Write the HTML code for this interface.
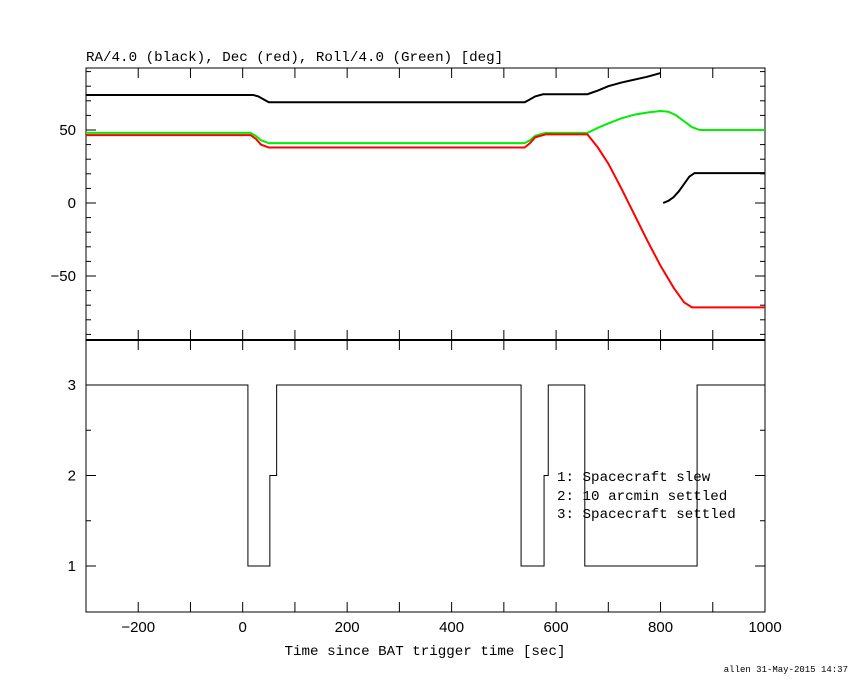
<!DOCTYPE html>
<html><head><meta charset="utf-8"><style>
body{margin:0;background:#fff;}
svg text{font-family:"Liberation Sans",sans-serif;}
svg text.m{font-family:"Liberation Mono",monospace;}
</style></head><body>
<svg id="c" width="850" height="680" xmlns="http://www.w3.org/2000/svg">
<rect width="850" height="680" fill="#fff"/>
</svg>
<script>
const raTimes=[-300,20,30,40,50,540,550,560,575,660,680,700,725,750,775,800];
const raVals=[74,74,73,71,69,69,71,73,74.5,74.5,77,80,82.5,84.5,86.5,89];
const ra2Times=[805,815,825,835,845,855,865,1000];
const ra2Vals=[0,1.5,4,8,13,18,20.5,20.5];
const decTimes=[-300,15,25,35,50,540,550,560,580,660,680,700,725,750,775,800,825,845,860,1000];
const decVals=[46.5,46.5,44,40,38,38,41,45,47,47,38,27,10,-8,-26,-43,-58,-68,-71.5,-71.5];
const rollTimes=[-300,15,25,35,50,540,550,560,580,660,680,700,725,750,775,800,815,830,845,860,875,1000];
const rollVals=[48,48,46,43,41,41,43,46,48,48,51.5,54.5,58,60.5,62,63,62.5,60,56,52,50,50];
const stateTimes=[-300,10,52,65,533,577,585,655,870,1000];
const stateVals=[3,1,2,3,1,2,3,1,3,3];
const xTicks=[-200,0,200,400,600,800,1000];
const yTopTicks=[-50,0,50];
const yBotTicks=[1,2,3];

const L=86,R=765,T1=68,B1=340,T2=340,B2=612;
const sx=t=>L+(t+300)*(R-L)/1300;
const sy1=v=>203-v*1.46;
const sy2=v=>385-(v-3)*90.5;
const svg=document.getElementById('c');
const NS='http://www.w3.org/2000/svg';
function mk(tag,attrs,name){const e=document.createElementNS(NS,tag);for(const k in attrs)e.setAttribute(k,attrs[k]);


svg.appendChild(e);return e;}
function line(x1,y1,x2,y2,name,w){return mk('line',{x1,y1,x2,y2,stroke:'#000','stroke-width':w||1},name);}
mk('rect',{x:L,y:T1,width:R-L,height:B1-T1,fill:'none',stroke:'#000','stroke-width':1},'top-panel-frame');
mk('rect',{x:L,y:T2,width:R-L,height:B2-T2,fill:'none',stroke:'#000','stroke-width':1},'bottom-panel-frame');
line(L,340,R,340,'panel-divider',2);
for(let t=-300;t<=1000;t+=100){const x=sx(t);const len=10;
line(x,T1,x,T1+len,'x-tick-top');line(x,B1,x,B1-len,'x-tick-mid');line(x,T2,x,T2+len,'x-tick-mid2');line(x,B2,x,B2-len,'x-tick-bottom');}
xTicks.forEach(t=>{const e=mk('text',{x:sx(t),y:632,'font-size':15,'text-anchor':'middle'},'x-tick-label');e.textContent=(t<0?'\u2212'+(-t):t);});
for(let v=-90;v<=90;v+=10){const y=sy1(v);const len=v%50===0?10:5;line(L,y,L+len,y,'y-tick-left');line(R,y,R-len,y,'y-tick-right');}
yTopTicks.forEach(v=>{const e=mk('text',{x:76,y:sy1(v)+5,'font-size':15,'text-anchor':'end'},'y-tick-label');e.textContent=(v<0?'\u2212'+(-v):v);});
for(let v=1;v<=3;v+=0.5){const y=sy2(v);const len=v%1===0?10:5;line(L,y,L+len,y,'y2-tick-left');line(R,y,R-len,y,'y2-tick-right');}
yBotTicks.forEach(v=>{const e=mk('text',{x:76,y:sy2(v)+5,'font-size':15,'text-anchor':'end'},'y2-tick-label');e.textContent=v;});
function poly(ts,vs,sy,color,name){mk('polyline',{points:ts.map((t,i)=>sx(t)+','+sy(vs[i])).join(' '),fill:'none',stroke:color,'stroke-width':2},name);}
poly(raTimes,raVals,sy1,'#000','ra-line');
poly(ra2Times,ra2Vals,sy1,'#000','ra-line-2');
poly(rollTimes,rollVals,sy1,'#00ee00','roll-line');
poly(decTimes,decVals,sy1,'#ff0000','dec-line');
let pts=[];for(let i=0;i<stateTimes.length-1;i++){pts.push(sx(stateTimes[i])+','+sy2(stateVals[i]));pts.push(sx(stateTimes[i+1])+','+sy2(stateVals[i]));}
mk('polyline',{points:pts.join(' '),fill:'none',stroke:'#000','stroke-width':1},'state-step-line');
function txt(x,y,s,size,name,anchor){const e=mk('text',{x,y,'font-size':size,'text-anchor':anchor||'start',class:'m'},name);e.textContent=s;}
txt(86,61,'RA/4.0 (black), Dec (red), Roll/4.0 (Green) [deg]',14.2,'top-title');
txt(425,655,'Time since BAT trigger time [sec]',14.2,'x-axis-title','middle');
txt(557,481,'1: Spacecraft slew',14.2,'legend-entry-1');
txt(557,500,'2: 10 arcmin settled',14.2,'legend-entry-2');
txt(557,518,'3: Spacecraft settled',14.2,'legend-entry-3');
txt(848,672,'allen 31-May-2015 14:37',9,'footer-stamp','end');
</script>
</body></html>
